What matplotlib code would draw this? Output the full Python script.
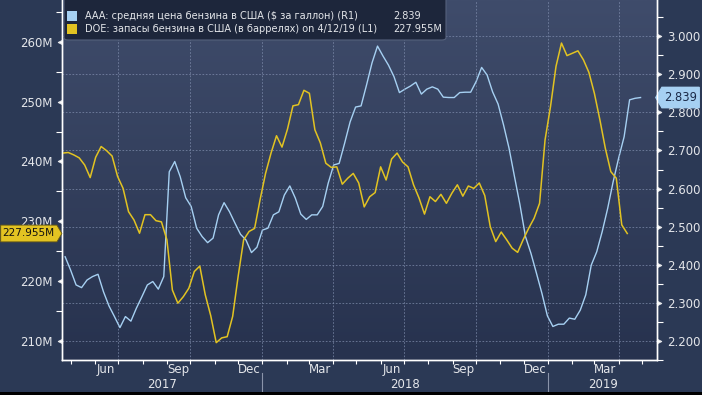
import numpy as np
import pandas as pd
import matplotlib
matplotlib.use("Agg")
import matplotlib.pyplot as plt
import matplotlib.dates as mdates
import matplotlib.transforms as mtransforms
from matplotlib.colors import LinearSegmentedColormap
from matplotlib.patches import FancyBboxPatch, Rectangle
from matplotlib.path import Path
from matplotlib.ticker import MultipleLocator, FuncFormatter

# --- data ---
doe_dates = pd.date_range("2017-04-21", periods=104, freq="W-FRI")
doe_values = [
    241.4, 241.5, 241.1, 240.6, 239.4, 237.3, 240.7, 242.5, 241.8, 240.9,
    237.5, 235.5, 231.6, 230.2, 228.0, 231.1, 231.1, 230.1, 229.9, 226.9,
    218.5, 216.3, 217.4, 218.8, 221.6, 222.5, 217.7, 214.2, 209.7, 210.5,
    210.7, 214.1, 220.8, 226.9, 228.3, 228.8, 233.6, 238.0, 241.4, 244.3,
    242.4, 245.4, 249.3, 249.5, 251.9, 251.4, 245.3, 243.1, 239.7, 239.0,
    239.1, 236.2, 237.2, 238.0, 236.4, 232.4, 234.1, 234.8, 239.1, 236.9,
    240.4, 241.4, 239.9, 239.1, 236.1, 233.9, 231.2, 234.1, 233.3, 234.5,
    233.0, 234.7, 236.1, 234.2, 235.9, 235.5, 236.4, 234.3, 229.1, 226.6,
    228.2, 226.9, 225.5, 224.8, 226.9, 228.8, 230.5, 233.0, 243.6, 249.2,
    255.9, 259.8, 257.7, 258.1, 258.5, 257.0, 254.9, 251.4, 247.0, 242.2,
    238.3, 237.2, 229.4, 227.955,
]

aaa_dates = pd.date_range("2017-04-24", periods=106, freq="W-MON")
aaa_values = [
    2.421, 2.386, 2.347, 2.340, 2.360, 2.369, 2.375, 2.329, 2.292, 2.264,
    2.235, 2.264, 2.252, 2.286, 2.316, 2.347, 2.356, 2.336, 2.369, 2.644,
    2.671, 2.631, 2.576, 2.553, 2.496, 2.474, 2.458, 2.470, 2.531, 2.563,
    2.539, 2.509, 2.480, 2.465, 2.432, 2.446, 2.491, 2.496, 2.531, 2.539,
    2.583, 2.607, 2.575, 2.533, 2.519, 2.531, 2.531, 2.553, 2.614, 2.662,
    2.666, 2.719, 2.775, 2.814, 2.817, 2.872, 2.930, 2.974, 2.948, 2.924,
    2.894, 2.852, 2.861, 2.869, 2.879, 2.848, 2.861, 2.867, 2.861, 2.840,
    2.839, 2.839, 2.852, 2.853, 2.853, 2.881, 2.918, 2.898, 2.854, 2.822,
    2.767, 2.706, 2.631, 2.557, 2.474, 2.430, 2.378, 2.325, 2.266, 2.238,
    2.244, 2.244, 2.260, 2.257, 2.281, 2.321, 2.399, 2.434, 2.487, 2.548,
    2.618, 2.680, 2.736, 2.833, 2.837, 2.839,
]

aaa_label = "AAA: средняя цена бензина в США ($ за галлон) (R1)"
doe_label = "DOE: запасы бензина в США (в баррелях) on 4/12/19 (L1)"
aaa_last = "2.839"
doe_last = "227.955M"
years = ["2017", "2018", "2019"]

# --- style ---
FIG_BG = "#2b3955"
TOP_BG = "#3f4c6b"
BOT_BG = "#27324e"
TXT = "#e4e6ea"
BLUE = "#a6d0f2"
YELLOW = "#e2c322"
GRID = "#8290b0"

fig = plt.figure(figsize=(7.02, 3.95), dpi=100, facecolor=FIG_BG)
pos = [62 / 702, 35 / 395, 595 / 702, 360 / 395]

bg = fig.add_axes(pos, zorder=0)
grad = np.linspace(0, 1, 256).reshape(-1, 1)
bg.imshow(grad, aspect="auto", extent=[0, 1, 0, 1], origin="lower",
          cmap=LinearSegmentedColormap.from_list("bg", [BOT_BG, TOP_BG]))
bg.axis("off")

ax = fig.add_axes(pos, zorder=2)
ax2 = ax.twinx()
ax2.set_zorder(1)
ax.patch.set_visible(False)
ax2.patch.set_visible(False)

ax2.plot(aaa_dates, aaa_values, color=BLUE, lw=1.0)
ax.plot(doe_dates, doe_values, color=YELLOW, lw=1.1)

xmin, xmax = pd.Timestamp("2017-04-20"), pd.Timestamp("2019-05-20")
ax.set_xlim(xmin, xmax)
ax.set_ylim(206.8, 267.0)
ax2.set_ylim(2.150, 3.095)

# grid
ax2.set_yticks(np.arange(2.2, 3.01, 0.1))
ax2.yaxis.grid(True, ls=(0, (2, 2)), color=GRID, lw=0.6, alpha=0.8)
for q in pd.date_range("2017-07-01", "2019-04-01", freq="QS"):
    ax2.axvline(q, ls=(0, (2, 2)), color=GRID, lw=0.6, alpha=0.8)

for a in (ax, ax2):
    a.spines["top"].set_visible(False)
    for s in ("left", "right", "bottom"):
        a.spines[s].set_color("white")
        a.spines[s].set_linewidth(1.0)

# y axes
ax.set_yticks(range(210, 261, 10))
ax.yaxis.set_minor_locator(MultipleLocator(5))
ax.yaxis.set_major_formatter(FuncFormatter(lambda v, p: f"{v:.0f}M"))
ax.tick_params(axis="y", which="major", colors=TXT, labelsize=8.5, length=5, pad=2)
ax.tick_params(axis="y", which="minor", colors="white", length=4, width=0.8)

ax2.yaxis.set_minor_locator(MultipleLocator(0.05))
ax2.yaxis.set_major_formatter(FuncFormatter(lambda v, p: f"{v:.3f}"))
ax2.tick_params(axis="y", which="major", colors=TXT, labelsize=8.5, length=5, pad=2)
ax2.tick_params(axis="y", which="minor", colors="white", length=4, width=0.8)

tri_left = Path([(0, -1), (0, 1), (-2, 0), (0, -1)])
tri_right = Path([(0, -1), (0, 1), (2, 0), (0, -1)])
for t in ax.yaxis.get_major_ticks():
    t.tick1line.set_marker(tri_left)
    t.tick1line.set_markersize(6)
    t.tick1line.set_markerfacecolor("white")
for t in ax2.yaxis.get_major_ticks():
    t.tick2line.set_marker(tri_right)
    t.tick2line.set_markersize(6)
    t.tick2line.set_markerfacecolor("white")

# x axis
ax.xaxis.set_major_locator(mdates.MonthLocator(bymonth=[3, 6, 9, 12], bymonthday=15))
ax.xaxis.set_major_formatter(mdates.DateFormatter("%b"))
ax.xaxis.set_minor_locator(mdates.MonthLocator())
ax.tick_params(axis="x", which="major", length=0, colors=TXT, labelsize=8.5, pad=2.5)
ax.tick_params(axis="x", which="minor", length=3, color="white", width=0.8)

xt = mtransforms.blended_transform_factory(ax.transData, ax.transAxes)
bounds = [xmin, pd.Timestamp("2018-01-01"), pd.Timestamp("2019-01-01"), xmax]
for i, yr in enumerate(years):
    mid = bounds[i] + (bounds[i + 1] - bounds[i]) / 2
    ax.text(mid, -0.068, yr, transform=xt, ha="center", va="center",
            color=TXT, fontsize=8.5)
for b in bounds[1:3]:
    ax.axvline(b, ymin=-0.09, ymax=-0.035, clip_on=False, color="#8a94aa", lw=0.8)


# value tags on the axes
def tag_right(x0, y0, w, h, mutation_size):
    p = mutation_size * 0.32
    x0, y0, w, h = x0 - p * 0.6, y0 - p, w + 1.2 * p, h + 2 * p
    tip = h * 0.3
    return Path([(x0, y0), (x0 + w, y0), (x0 + w + tip, y0 + h / 2),
                 (x0 + w, y0 + h), (x0, y0 + h), (x0, y0)], closed=True)


def tag_left(x0, y0, w, h, mutation_size):
    p = mutation_size * 0.32
    x0, y0, w, h = x0 - p * 0.6, y0 - p, w + 1.2 * p, h + 2 * p
    tip = h * 0.3
    return Path([(x0, y0), (x0 + w, y0), (x0 + w, y0 + h), (x0, y0 + h),
                 (x0 - tip, y0 + h / 2), (x0, y0)], closed=True)


lt = mtransforms.blended_transform_factory(ax.transAxes, ax.transData)
ax.text(-0.012, doe_values[-1], doe_last, transform=lt, ha="right", va="center",
        fontsize=7.6, color="#111111", clip_on=False, zorder=5,
        bbox=dict(boxstyle=tag_right, fc=YELLOW, ec="#6a5a10", lw=0.6))
rt = mtransforms.blended_transform_factory(ax2.transAxes, ax2.transData)
ax2.text(1.012, aaa_values[-1], aaa_last, transform=rt, ha="left", va="center",
         fontsize=8.3, color="#1b2a48", clip_on=False, zorder=5,
         bbox=dict(boxstyle=tag_left, fc=BLUE, ec=BLUE))

# legend box
fig.patches.append(FancyBboxPatch((64 / 702, 1 - 40 / 395), 382 / 702, 50 / 395,
                                  boxstyle="round,pad=0,rounding_size=0.006",
                                  transform=fig.transFigure, fc="#1d263b",
                                  ec="#55617c", lw=0.8, zorder=10))
fig.patches.append(Rectangle((67 / 702, 1 - 21 / 395), 10 / 702, 10 / 395,
                             transform=fig.transFigure, fc=BLUE, ec="none", zorder=11))
fig.patches.append(Rectangle((67 / 702, 1 - 34 / 395), 10 / 702, 10 / 395,
                             transform=fig.transFigure, fc=YELLOW, ec="none", zorder=11))
fig.text(85 / 702, 1 - 16 / 395, aaa_label, va="center", fontsize=7.0, color=TXT, zorder=12)
fig.text(85 / 702, 1 - 29 / 395, doe_label, va="center", fontsize=7.0, color=TXT, zorder=12)
fig.text(393 / 702, 1 - 16 / 395, aaa_last, va="center", fontsize=7.0, color=TXT, zorder=12)
fig.text(393 / 702, 1 - 29 / 395, doe_last, va="center", fontsize=7.0, color=TXT, zorder=12)

# dark strip along the bottom edge
fig.patches.append(Rectangle((0, 0), 1, 3 / 395, transform=fig.transFigure,
                             fc="black", ec="none", zorder=10))

fig.savefig("out.png", dpi=100, facecolor=FIG_BG)
